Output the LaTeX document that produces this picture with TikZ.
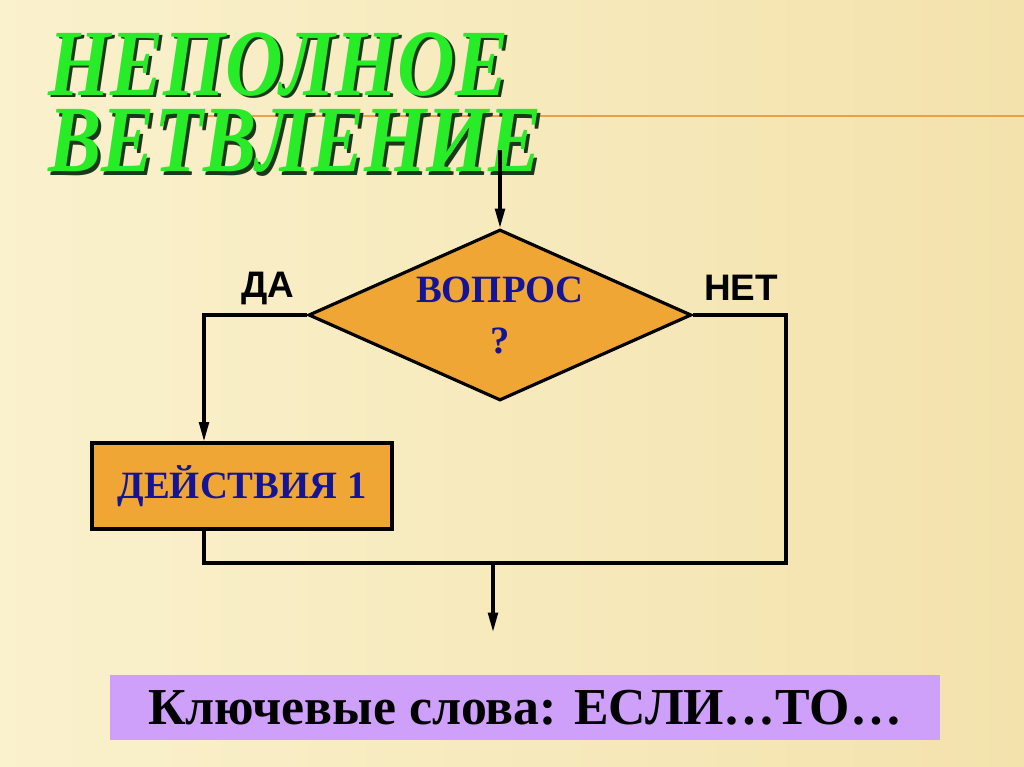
\documentclass[tikz,border=0pt]{standalone}
\usepackage{fontspec}
\setmainfont{Liberation Serif}
\newfontfamily\labelfont{Liberation Sans}
\usetikzlibrary{shapes.geometric,arrows.meta}
\definecolor{paper}{RGB}{250,241,205}
\definecolor{paperdark}{RGB}{243,226,172}
\definecolor{blockfill}{RGB}{240,166,52}
\definecolor{titlegreen}{RGB}{40,236,40}
\definecolor{titleshade}{RGB}{28,56,28}
\definecolor{textblue}{RGB}{20,20,150}
\definecolor{lilac}{RGB}{206,160,250}
\definecolor{rulecolor}{RGB}{234,160,72}
\tikzset{
  flow/.style={line width=1.8pt, black},
  arr/.style={flow, -{Triangle[length=11pt,width=5.5pt]}},
  block/.style={draw, line width=1.8pt, fill=blockfill, text=textblue,
    font=\bfseries\fontsize{22}{29}\selectfont},
  decision/.style={block, diamond, aspect=2.24, inner sep=0pt, align=center,
    minimum width=7.66cm, minimum height=3.42cm},
  lbl/.style={font=\labelfont\bfseries\fontsize{21}{24}\selectfont},
  headline/.style={anchor=base west, font=\bfseries\itshape\fontsize{54}{60}\selectfont}
}
\begin{document}
\begin{tikzpicture}[x=0.02cm,y=-0.02cm]
            \useasboundingbox (0,0) rectangle (1024,767);
            \shade [left color=paper, right color=paperdark] (0,0) rectangle (1024,767);
            \draw [rulecolor, line width=1.5pt] (180,116)--(1024,116);
            % title with shadow
            \node (t1s) [headline, text=titleshade] at (45,98) {\scalebox{0.84}[1]{НЕПОЛНОЕ}};
            \node (t1) [headline, text=titlegreen] at (42,95) {\scalebox{0.84}[1]{НЕПОЛНОЕ}};
            \node (t2s) [headline, text=titleshade] at (45,175) {\scalebox{0.84}[1]{ВЕТВЛЕНИЕ}};
            \node (t2) [headline, text=titlegreen] at (42,172) {\scalebox{0.84}[1]{ВЕТВЛЕНИЕ}};
            % blocks
            \node (q) [decision] at (500,315) {ВОПРОС\\?};
            \node (act) [block, minimum width=6cm, minimum height=1.72cm] at (242,486) {ДЕЙСТВИЯ 1};
            \node (yes) [lbl] at (268,288) {ДА};
            \node (no) [lbl] at (741,288) {НЕТ};
            \node (kw) [fill=lilac, minimum width=16.6cm, minimum height=1.3cm,
              font=\bfseries\fontsize{29.5}{32}\selectfont] at (525,707.5) {Ключевые слова: ЕСЛИ…ТО…};
            % connectors
            \coordinate (in) at (500,150);
            \coordinate (da) at (204,315);
            \coordinate (net) at (786,315);
            \coordinate (mrg) at (786,563);
            \coordinate (mid) at (493,563);
            \coordinate (out) at (493,632);
            \draw [arr] (in)--(q.north);
            \draw [arr] (q.west)--(da)--(da |- act.north);
            \draw [flow] (q.east)--(net)--(mrg)--(mrg -| da)--(da |- act.south);
            \draw [arr] (mid)--(out);
        \end{tikzpicture}
\end{document}
